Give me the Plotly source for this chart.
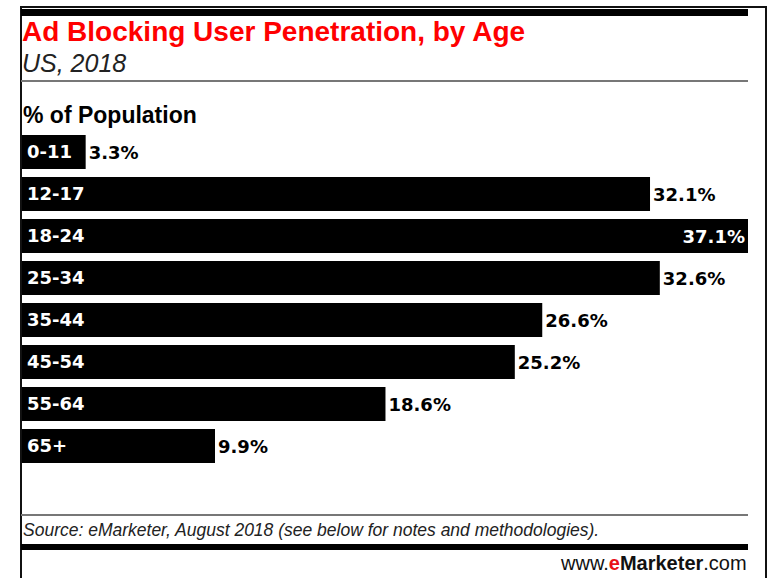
""" Ad blocking user penetration by age, US 2018 (eMarketer style bar chart). """

import plotly.graph_objects as go

# Data
ages = ["0-11", "12-17", "18-24", "25-34", "35-44", "45-54", "55-64", "65+"]
penetration = [3.3, 32.1, 37.1, 32.6, 26.6, 25.2, 18.6, 9.9]

W, H = 769, 578


def px(x):       # figure pixel -> paper x
    return x / W


def py(y):       # figure pixel (from top) -> paper y
    return 1 - y / H


# The longest bar fills the plot, so its label goes inside
positions = ["inside" if v == max(penetration) else "outside" for v in penetration]

fig = go.Figure(go.Bar(
    x=penetration,
    y=ages,
    orientation="h",
    marker=dict(color="#000000", line=dict(width=0)),
    texttemplate="%{x:.1f}%",
    textposition=positions,
    insidetextanchor="end",
    insidetextfont=dict(color="white", family="DejaVu Sans", size=18, weight="bold"),
    outsidetextfont=dict(color="black", family="DejaVu Sans", size=18, weight="bold"),
    cliponaxis=False,
))

fig.update_layout(
    width=W, height=H,
    margin=dict(l=0, r=0, t=0, b=0),
    paper_bgcolor="white", plot_bgcolor="white",
    bargap=0.19,
    showlegend=False,
    xaxis=dict(domain=[px(21), px(748)], range=[0, max(penetration)],
               visible=False, fixedrange=True),
    yaxis=dict(domain=[py(467), py(131)], autorange="reversed",
               ticklabelposition="inside", ticks="", showline=False,
               showgrid=False, ticklabelstandoff=3,
               tickfont=dict(color="white", family="DejaVu Sans", size=18, weight="bold")),
)

# Frame and rules
fig.add_shape(type="rect", xref="paper", yref="paper",
              x0=px(21), x1=px(766), y0=py(590), y1=py(7),
              line=dict(color="#111111", width=2))
fig.add_shape(type="rect", xref="paper", yref="paper",
              x0=px(21), x1=px(748), y0=py(16), y1=py(9),
              fillcolor="black", line=dict(width=0))
fig.add_shape(type="line", xref="paper", yref="paper",
              x0=px(21), x1=px(748), y0=py(81), y1=py(81),
              line=dict(color="#777777", width=2))
fig.add_shape(type="line", xref="paper", yref="paper",
              x0=px(21), x1=px(748), y0=py(515), y1=py(515),
              line=dict(color="#777777", width=2))
fig.add_shape(type="rect", xref="paper", yref="paper",
              x0=px(21), x1=px(748), y0=py(550), y1=py(544),
              fillcolor="black", line=dict(width=0))

# Texts
fig.add_annotation(text="<b>Ad Blocking User Penetration, by Age</b>",
                   xref="paper", yref="paper", x=px(20), y=py(32),
                   xanchor="left", yanchor="middle", showarrow=False,
                   font=dict(family="Liberation Sans", size=28, color="#ff0000"))
fig.add_annotation(text="<i>US, 2018</i>",
                   xref="paper", yref="paper", x=px(20), y=py(63),
                   xanchor="left", yanchor="middle", showarrow=False,
                   font=dict(family="Liberation Sans", size=25, color="#222222"))
fig.add_annotation(text="<b>% of Population</b>",
                   xref="paper", yref="paper", x=px(21), y=py(115),
                   xanchor="left", yanchor="middle", showarrow=False,
                   font=dict(family="Liberation Sans", size=23, color="black"))
fig.add_annotation(text="<i>Source: eMarketer, August 2018 (see below for notes and methodologies).</i>",
                   xref="paper", yref="paper", x=px(21), y=py(530),
                   xanchor="left", yanchor="middle", showarrow=False,
                   font=dict(family="Liberation Sans", size=17.5, color="#222222"))
fig.add_annotation(text="www.<b><span style='color:#e8101a'>e</span>Marketer</b>.com",
                   xref="paper", yref="paper", x=px(749), y=py(563),
                   xanchor="right", yanchor="middle", showarrow=False,
                   font=dict(family="Liberation Sans", size=20, color="#111111"))

# Page body has a default 8px margin; drop it so the figure fills the window
fig.write_html("out.html", config={"displayModeBar": False},
               post_script="document.body.style.margin='0px';")
